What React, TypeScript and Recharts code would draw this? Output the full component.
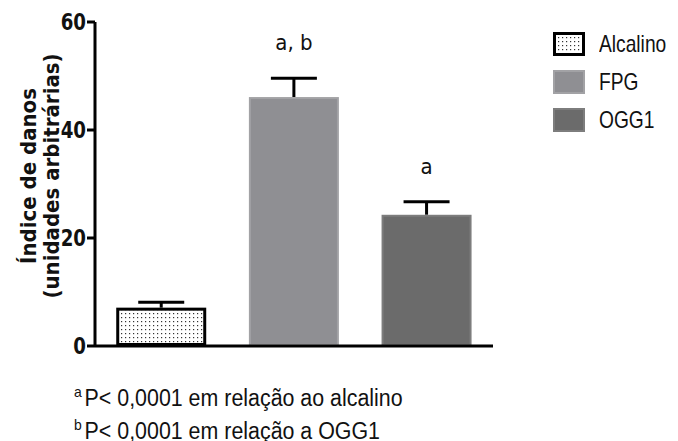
import React from 'react';
import { BarChart, Bar, XAxis, YAxis, LabelList, Cell } from 'recharts';

const categories = ['Alcalino', 'FPG', 'OGG1'];
const means = [7.1, 46.1, 24.3];
const sem = [1.0, 3.5, 2.4];
const marks = ['', 'a, b', 'a'];
const yTicks = [0, 20, 40, 60];
const footnotes = [
  { sup: 'a', text: 'P< 0,0001 em relação ao alcalino' },
  { sup: 'b', text: 'P< 0,0001 em relação a OGG1' },
];

const FONT = '"DejaVu Sans Condensed", "Liberation Sans Narrow", "Liberation Sans", Arial, sans-serif';
const SANS = '"Liberation Sans", Arial, sans-serif';
const FILLS = ['url(#dots)', '#8f8f93', '#6b6b6b'];
const STROKES = ['#000', '#a2a2a5', '#7d7d7d'];

const data = categories.map((name, i) => ({ name, mean: means[i], sem: sem[i], mark: marks[i] }));

const BarWithError = (props: any) => {
  const { x, y, width, height, index, value } = props;
  const i = index ?? 0;
  const v = Array.isArray(value) ? value[1] : value;
  const pxPerUnit = v ? height / v : 0;
  const errTop = y - sem[i] * pxPerUnit;
  const cx = x + width / 2;
  const sw = i === 0 ? 3 : 2;
  return (
    <g>
      {i === 0 && (
        <defs>
          <pattern id="dots" width="4" height="4" patternUnits="userSpaceOnUse">
            <rect width="4" height="4" fill="#fff" />
            <rect x="1" y="1" width="1.2" height="1.2" fill="#333" />
          </pattern>
        </defs>
      )}
      <line x1={cx} x2={cx} y1={y} y2={errTop} stroke="#000" strokeWidth={3} />
      <line x1={cx - 23} x2={cx + 23} y1={errTop} y2={errTop} stroke="#000" strokeWidth={3} />
      <rect x={x + sw / 2} y={y + sw / 2} width={width - sw} height={height - sw}
        fill={FILLS[i]} stroke={STROKES[i]} strokeWidth={sw} />
    </g>
  );
};

const MarkLabel = (props: any) => {
  const { x, y, width, height, index, value } = props;
  if (!value) return null;
  const pxPerUnit = height / means[index];
  const errTop = y - sem[index] * pxPerUnit;
  return (
    <text x={x + width / 2} y={errTop - 28} textAnchor="middle" fontFamily={FONT}
      fontSize={22} fill="#111">{value}</text>
  );
};

const YTick = (props: any) => {
  const { x, y, payload } = props;
  return (
    <text x={x} y={y} dy={8} textAnchor="end" fontFamily={FONT} fontWeight="bold" fontSize={23}
      fill="#111" transform={`translate(${x}, 0) scale(0.88, 1) translate(${-x}, 0)`}>
      {payload.value}
    </text>
  );
};

const YLabel = () => {
  const cx = 40;
  const cy = 176;
  return (
    <text transform={`rotate(-90, ${cx}, ${cy})`} x={cx} y={cy} textAnchor="middle"
      fontFamily={FONT} fontWeight="bold" fontSize={22} fill="#111">
      <tspan x={cx} dy={-4}>Índice de danos</tspan>
      <tspan x={cx} dy={23}>(unidades arbitrárias)</tspan>
    </text>
  );
};

export default function App() {
  return (
    <div style={{ position: 'absolute', left: 0, top: 0, width: 678, height: 441, background: '#fff', overflow: 'hidden' }}>
      <BarChart width={678} height={441} data={data} margin={{ top: 22, right: 185, bottom: 75, left: 0 }}
        barCategoryGap="16%">
        <XAxis dataKey="name" tick={false} tickSize={9} axisLine={{ stroke: '#000', strokeWidth: 3 }}
          tickLine={{ stroke: '#000', strokeWidth: 3 }} height={20} />
        <YAxis width={95} domain={[0, 60]} ticks={yTicks} tickSize={8}
          axisLine={{ stroke: '#000', strokeWidth: 3 }} tickLine={{ stroke: '#000', strokeWidth: 3 }}
          tick={<YTick />} tickMargin={1} label={<YLabel />} />
        <Bar dataKey="mean" shape={<BarWithError />} isAnimationActive={false}>
          {data.map((d, i) => <Cell key={d.name} fill={FILLS[i]} />)}
          <LabelList dataKey="mark" content={<MarkLabel />} />
        </Bar>
      </BarChart>
      <div style={{ position: 'absolute', left: 553, top: 25, fontFamily: SANS, fontSize: 24, color: '#111' }}>
        {categories.map((c, i) => (
          <div key={c} style={{ display: 'flex', alignItems: 'center', height: 38 }}>
            <svg width={32} height={24} style={{ marginRight: 14 }}>
              <rect x={i === 0 ? 1.5 : 1} y={i === 0 ? 1.5 : 1} width={i === 0 ? 29 : 30} height={i === 0 ? 21 : 22}
                fill={FILLS[i]} stroke={STROKES[i]} strokeWidth={i === 0 ? 3 : 2} />
            </svg>
            <span style={{ display: 'inline-block', transform: 'scaleX(0.8)', transformOrigin: 'left center' }}>{c}</span>
          </div>
        ))}
      </div>
      {footnotes.map((f, i) => (
        <div key={f.sup} style={{ position: 'absolute', left: 74, top: 385 + i * 33, fontFamily: SANS, fontSize: 23, color: '#111', whiteSpace: 'nowrap', transform: 'scaleX(0.93)', transformOrigin: 'left center' }}>
          <sup style={{ fontSize: 15, marginRight: 3, verticalAlign: 'top', position: 'relative', top: -2 }}>{f.sup}</sup>
          {f.text}
        </div>
      ))}
    </div>
  );
}
